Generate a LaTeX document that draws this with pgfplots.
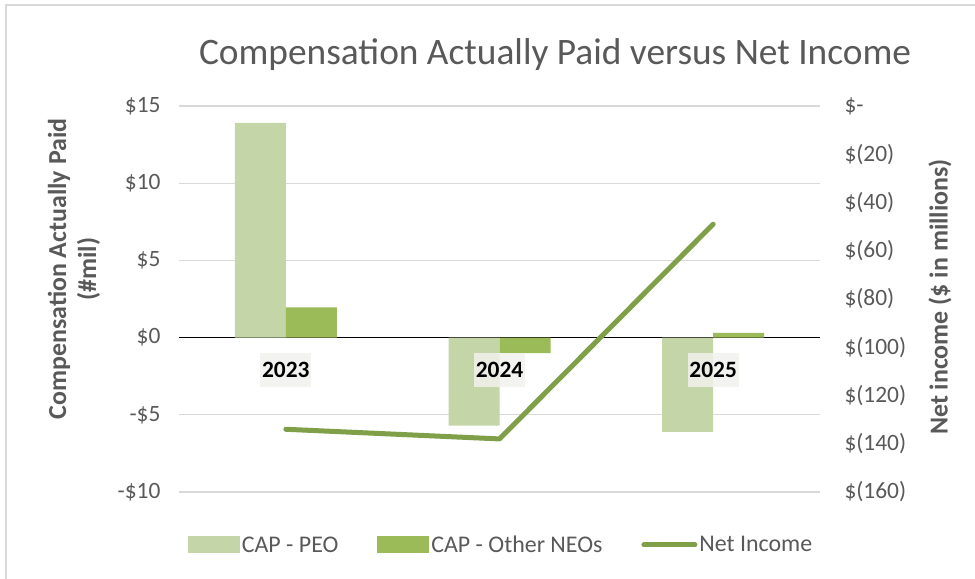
\documentclass[border=0pt]{standalone}
\usepackage{pgfplots}
\pgfplotsset{compat=1.18}
\usepackage{fontspec}
\setmainfont{Carlito}
\definecolor{peo}{HTML}{C4D6A8}
\definecolor{neo}{HTML}{9BBB59}
\definecolor{nil}{HTML}{7F9F48}
\definecolor{txt}{HTML}{595959}
\definecolor{grd}{HTML}{D9D9D9}
\definecolor{lblbg}{HTML}{F2F2EE}
\begin{document}
\begin{tikzpicture}
\useasboundingbox (0bp,0bp) rectangle (975bp,579bp);
\fill[white] (0bp,0bp) rectangle (975bp,579bp);
\draw[grd, line width=1.5bp] (6bp,-20bp) -- (6bp,574bp) -- (995bp,574bp);
\node[text=txt, font=\fontsize{37.5}{44}\selectfont] at (555bp,524bp) {Compensation Actually Paid versus Net Income};
\node[text=txt, font=\bfseries\fontsize{26}{30}\selectfont, rotate=90, align=center] at (74bp,310bp) {Compensation Actually Paid\\(\#mil)};
\node[text=txt, font=\bfseries\fontsize{26}{30}\selectfont, rotate=90] at (940bp,282bp) {Net income (\$ in millions)};
\begin{axis}[
  at={(179bp,87bp)}, anchor=south west,
  width=641bp, height=386bp, scale only axis,
  xmin=-0.5, xmax=2.5, ymin=-10, ymax=15,
  hide x axis,
  axis y line*=left, y axis line style={draw=none},
  major tick length=0pt,
  ytick={-10,-5,5,10,15},
  yticklabels={-\$10,-\$5,\$5,\$10,\$15},
  extra y ticks={0},
  extra y tick labels={\$0},
  extra y tick style={grid style={black, line width=1.3bp}},
  ymajorgrids, grid style={grd, line width=1.3bp},
  yticklabel style={text=txt, font=\fontsize{23.5}{28}\selectfont, xshift=-15bp},
  ybar=0pt, bar width=51bp,
  legend columns=3,
  legend style={at={(0.5023,-0.1373)}, anchor=center, draw=none, fill=none,
    font=\fontsize{24}{28}\selectfont, text=txt,
    nodes={inner sep=2bp},
    /tikz/every even column/.append style={column sep=37bp}},
]
\addplot[fill=peo, draw=none, legend image code/.code={\fill[peo] (0bp,-8.5bp) rectangle (52bp,8.5bp);}]
  coordinates {(0,13.9) (1,-5.7) (2,-6.1)};
\addlegendentry{CAP - PEO}
\addplot[fill=neo, draw=none, legend image code/.code={\fill[neo] (0bp,-8.5bp) rectangle (52bp,8.5bp);}]
  coordinates {(0,1.95) (1,-1.0) (2,0.3)};
\addlegendentry{CAP - Other NEOs}
\addlegendimage{legend image code/.code={\draw[nil, line width=5bp, line cap=round] (2.5bp,0bp) -- (53.5bp,0bp);}}
\addlegendentry{Net Income}
\foreach \i/\yr in {0/2023,1/2024,2/2025}{
  \edef\temp{\noexpand\node[anchor=north, yshift=-15bp, fill=lblbg, fill opacity=0.85, text opacity=1, text=black, font=\noexpand\bfseries\noexpand\fontsize{23.5}{27}\noexpand\selectfont, minimum width=51bp, minimum height=34bp, inner sep=0pt] at (axis cs:\i,0) {\yr};}
  \temp
}
\end{axis}
\begin{axis}[
  at={(179bp,87bp)}, anchor=south west,
  width=641bp, height=386bp, scale only axis,
  xmin=-0.5, xmax=2.5, ymin=-160, ymax=0,
  hide x axis,
  axis y line*=right, y axis line style={draw=none},
  major tick length=0pt,
  ytick={-160,-140,-120,-100,-80,-60,-40,-20,0},
  yticklabels={\$(160),\$(140),\$(120),\$(100),\$(80),\$(60),\$(40),\$(20),\$-},
  yticklabel style={text=txt, font=\fontsize{23.5}{28}\selectfont, xshift=21bp},
]
\addplot[nil, line width=5bp, line cap=round, line join=round, mark=none]
  coordinates {(0,-134) (1,-138) (2,-49)};
\end{axis}
\end{tikzpicture}
\end{document}
